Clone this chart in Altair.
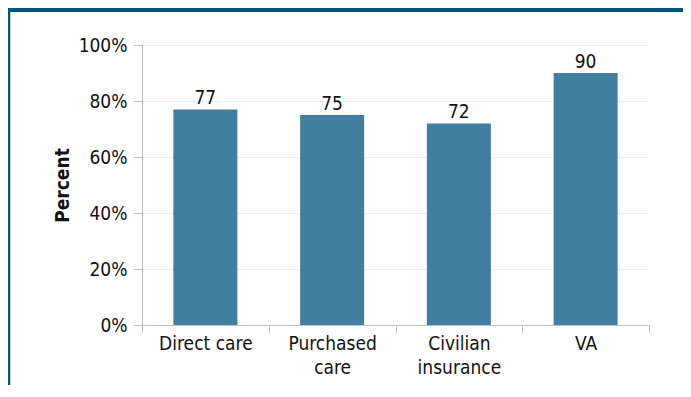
import altair as alt
import pandas as pd

categories = ["Direct care", "Purchased care", "Civilian insurance", "VA"]
values = [77, 75, 72, 90]
label_lines = [["Direct care"], ["Purchased", "care"], ["Civilian", "insurance"], ["VA"]]
y_ticks = [0, 20, 40, 60, 80, 100]

FONT = "Liberation Sans Narrow, DejaVu Sans Condensed, Roboto, sans-serif"
BAR = "#417FA1"
BANNER = "#00567F"
AXIS_GRAY = "#BFBFBF"

df = pd.DataFrame({"category": categories, "value": values})

# label expression for multi-line labels
expr = "datum.value"
for cat, lines in zip(categories, label_lines):
    if len(lines) > 1:
        arr = "[" + ",".join("'" + l + "'" for l in lines) + "]"
        expr = f"datum.value == '{cat}' ? {arr} : ({expr})"

x_enc = alt.X(
    "category:N",
    sort=categories,
    scale=alt.Scale(paddingInner=0, paddingOuter=0),
    axis=alt.Axis(
        title=None,
        labelAngle=0,
        labelExpr=expr,
        tickBand="extent",
        tickSize=8,
        tickColor=AXIS_GRAY,
        domainColor=AXIS_GRAY,
        labelPadding=1,
        labelFont=FONT,
        labelFontSize=19,
        labelColor="#111111",
        labelLineHeight=24,
        grid=False,
    ),
)
y_enc = alt.Y(
    "value:Q",
    scale=alt.Scale(domain=[0, 100]),
    axis=alt.Axis(
        values=y_ticks,
        labelExpr="datum.value + '%'",
        grid=True,
        gridDash=[1, 2],
        gridColor="#C8C8C8",
        domainColor=AXIS_GRAY,
        tickColor=AXIS_GRAY,
        tickSize=9,
        labelPadding=6,
        labelFont=FONT,
        labelFontSize=19,
        labelColor="#111111",
        title="Percent",
        titleFont=FONT,
        titleFontSize=19,
        titleFontWeight="bold",
        titleColor="#111111",
        titleX=-80,
        titleY=140,
        titleAngle=-90,
        titleAlign="center",
        titleBaseline="middle",
    ),
)

base = alt.Chart(df)
bars = base.mark_bar(color=BAR, width=alt.RelativeBandSize(0.505)).encode(x=x_enc, y=y_enc)
labels = base.mark_text(
    dy=-5, baseline="alphabetic", font=FONT, fontSize=19, color="#111111"
).encode(x=x_enc, y=y_enc, text="value:Q")

deco = pd.DataFrame({"d": [0]})
banner = alt.Chart(deco).mark_rect(color=BANNER).encode(
    x=alt.value(-134), x2=alt.value(541), y=alt.value(-37), y2=alt.value(-33)
)
border = alt.Chart(deco).mark_rule(color=BANNER, strokeWidth=2.5).encode(
    x=alt.value(-133), y=alt.value(-37), y2=alt.value(340)
)

chart = (
    alt.layer(bars, labels, banner, border)
    .properties(
        width=507,
        height=280,
        autosize=alt.AutoSizeParams(type="none"),
        padding={"left": 134, "top": 37, "right": 34, "bottom": 60},
        background="white",
    )
    .configure_view(strokeWidth=0)
)

chart.save("out.html", embed_options={"renderer": "svg", "actions": False})
